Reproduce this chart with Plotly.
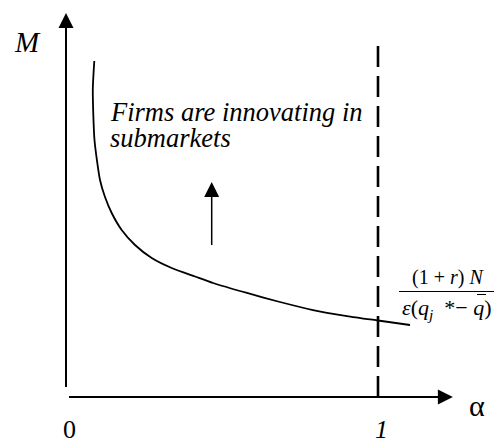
import plotly.graph_objects as go

# curve (alpha, M)
alpha_curve = [0.0907, 0.0859, 0.0913, 0.1090, 0.1250, 0.1465, 0.1785, 0.2212, 0.2747,
               0.3388, 0.4135, 0.4712, 0.5801, 0.6859, 0.7917, 0.9006, 1.0000, 1.1026]
m_curve = [0.8796, 0.8037, 0.6728, 0.5681, 0.5236, 0.4817, 0.4372, 0.3979, 0.3639,
           0.3377, 0.3154, 0.2984, 0.2723, 0.2487, 0.2277, 0.2120, 0.2003, 0.1885]

alpha_one = 1.0
dash_top = 0.942
x_axis_end = 1.240
y_axis_end = 1.005
shift_alpha = 0.467
shift_from, shift_to = 0.372, 0.563

SERIF = "serif"
NB = "\u00a0"

# page pixel -> data helpers; the page body adds an 8px margin
OFF = 8
X0, XS = 66 - OFF, 312
Y0, YS = 397 - OFF, 382


def ax_(px):
    return (px - OFF - X0) / XS


def ay_(py):
    return (Y0 - (py - OFF)) / YS


fig = go.Figure()

fig.add_trace(go.Scatter(
    x=alpha_curve, y=m_curve, mode="lines",
    line=dict(color="black", width=1.8, shape="spline", smoothing=0.6),
    hoverinfo="skip", showlegend=False,
))

fig.add_trace(go.Scatter(
    x=[alpha_one, alpha_one], y=[0, dash_top], mode="lines",
    line=dict(color="black", width=2.6, dash="21px,9px"),
    hoverinfo="skip", showlegend=False,
))


def arrow(x, y, tx, ty, width, size):
    fig.add_annotation(
        x=x, y=y, ax=tx, ay=ty, xref="x", yref="y", axref="x", ayref="y",
        showarrow=True, arrowhead=2, arrowwidth=width, arrowsize=size,
        arrowcolor="black", text=" ",
    )


# axes
arrow(0, y_axis_end, 0, 0, 2, 1.5)
arrow(x_axis_end, 0, 0, 0, 2, 1.5)
# upward shift arrow
arrow(shift_alpha, shift_to, shift_alpha, shift_from, 1.5, 2.0)


def label(px, py, text, size, xanchor="center"):
    fig.add_annotation(
        x=ax_(px), y=ay_(py), xref="x", yref="y", text=text, showarrow=False,
        xanchor=xanchor, yanchor="middle",
        font=dict(family=SERIF, size=size, color="black"),
    )


label(27, 42, "<i>M</i>", 29)
label(69, 429, "0", 26)
label(381, 429, "<i>1</i>", 26)
label(477, 405, "α", 30)
label(108, 112, "<i>Firms are innovating in</i>", 26.5, "left")
label(108, 138, "<i>submarkets</i>", 26.5, "left")

label(448, 277, "(1 + <i>r</i>) <i>N</i>", 20)
label(447, 309, f"<i>ε</i>(<i>q</i><sub><i>j</i></sub>{NB}{NB}*−{NB}<i>q</i>)", 22)

# fraction bar and the bar over q
fig.add_shape(type="line", x0=ax_(399), x1=ax_(498), y0=ay_(291.5), y1=ay_(291.5),
              xref="x", yref="y", line=dict(color="black", width=1))
fig.add_shape(type="line", x0=ax_(477), x1=ax_(486), y0=ay_(294.5), y1=ay_(294.5),
              xref="x", yref="y", line=dict(color="black", width=1))

fig.update_xaxes(range=[ax_(OFF), ax_(502 + OFF)], visible=False, fixedrange=True)
fig.update_yaxes(range=[ay_(443 + OFF), ay_(OFF)], visible=False, fixedrange=True)
fig.update_layout(
    width=502, height=443,
    margin=dict(l=0, r=0, t=0, b=0),
    plot_bgcolor="white", paper_bgcolor="white",
    showlegend=False,
)

fig.write_html("out.html")
